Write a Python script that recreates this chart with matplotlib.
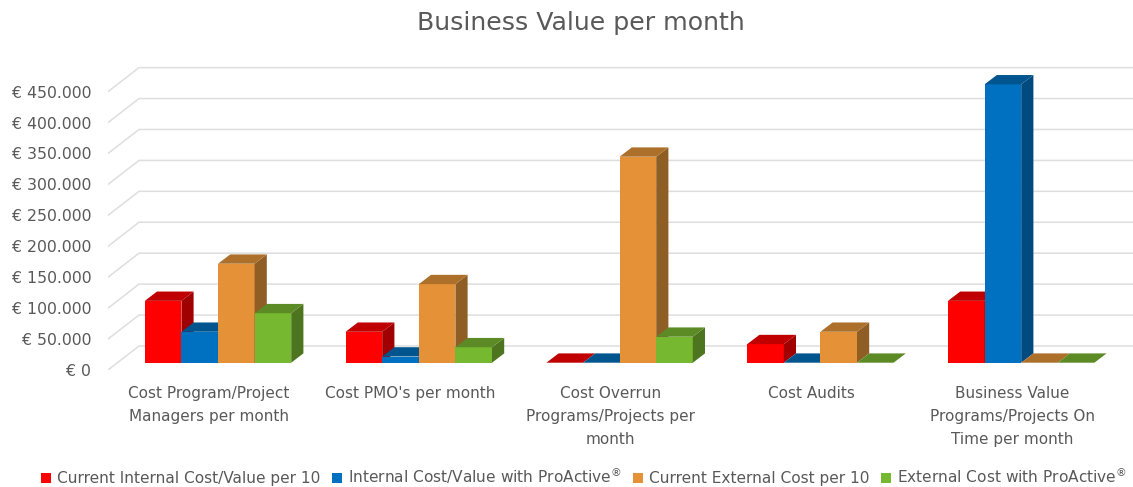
import matplotlib
matplotlib.use("Agg")
import matplotlib.pyplot as plt
from matplotlib.patches import Patch

W, H = 1133, 487
title = "Business Value per month"
categories = ["Cost Program/Project\nManagers per month",
              "Cost PMO's per month\n\n",
              "Cost Overrun\nPrograms/Projects per\nmonth",
              "Cost Audits\n\n",
              "Business Value\nPrograms/Projects On\nTime per month"]
series_names = ["Current Internal Cost/Value per 10",
                "Internal Cost/Value with ProActive$^{\\mathregular{®}}$",
                "Current External Cost per 10",
                "External Cost with ProActive$^{\\mathregular{®}}$"]
current_internal = [100000, 50000, 0, 30000, 100000]
internal_proactive = [50000, 10000, 0, 0, 450000]
current_external = [160000, 127000, 333000, 50000, 0]
external_proactive = [80000, 25000, 42000, 0, 0]
yticks = [0, 50000, 100000, 150000, 200000, 250000, 300000, 350000, 400000, 450000]
ylabels = ["€ 0", "€ 50.000", "€ 100.000", "€ 150.000", "€ 200.000",
           "€ 250.000", "€ 300.000", "€ 350.000", "€ 400.000", "€ 450.000"]
front = ["#FF0000", "#0070C0", "#E59138", "#76B82F"]
tops = ["#C00000", "#00558F", "#AD702A", "#5C8A24"]
sides = ["#A00000", "#004A80", "#8F5E24", "#4D751F"]
TXT = "#595959"

# pixel geometry converted to data units
PX_CAT = 200.8
PX_VAL = 30.93 / 50000
AX_L, AX_B, AX_T = 108, 370, 55
CENTER0 = 218.0
fig = plt.figure(figsize=(W / 100, H / 100), dpi=100)
ax = fig.add_axes([AX_L / W, (H - AX_B) / H, (W - AX_L) / W, (AX_B - AX_T) / H])
ax.set_xlim((AX_L - CENTER0) / PX_CAT, (W - CENTER0) / PX_CAT)
ax.set_ylim(0, (AX_B - AX_T) / PX_VAL)
ux = lambda p: p / PX_CAT
uy = lambda p: p / PX_VAL

# back wall and floor
xmin, xmax = ax.get_xlim()
for v in yticks:
    ax.plot([xmin, xmin + ux(31), xmax], [v, v + uy(24), v + uy(24)],
            color="#DEDEDE", lw=1.1, zorder=0, solid_joinstyle="miter")

# bars, painted from left to right
BAR_W = ux(36.6)
DX, DY = ux(12.2), uy(9.3)
BASE = uy(7.3)
all_series = [current_internal, internal_proactive, current_external, external_proactive]
for g in range(len(categories)):
    for s, vals in enumerate(all_series):
        v = vals[g]
        x0 = g + (s - 2) * BAR_W
        x1 = x0 + BAR_W
        y1 = BASE + v
        ax.bar(x0, v, BAR_W, bottom=BASE, align="edge", color=front[s], lw=0)
        ax.fill([x1, x1 + DX, x1 + DX, x1], [BASE, BASE + DY, y1 + DY, y1], color=sides[s], lw=0)
        ax.fill([x0, x1, x1 + DX, x0 + DX], [y1, y1, y1 + DY, y1 + DY], color=tops[s], lw=0)

for sp in ax.spines.values():
    sp.set_visible(False)
ax.set_yticks(yticks, ylabels, color=TXT, fontsize=11.3)
ax.tick_params(axis="y", length=0, pad=12)
ax.set_xticks([g - ux(9) for g in range(len(categories))], categories,
              color=TXT, fontsize=11, linespacing=1.68)
ax.tick_params(axis="x", length=0, pad=11.5)
ax.patch.set_alpha(0)

fig.text(581 / W, 1 - 23 / H, title, ha="center", va="center", color=TXT, fontsize=18.2)

handles = [Patch(color=c, lw=0) for c in front]
fig.legend(handles, series_names, loc="center", bbox_to_anchor=(584 / W, 1 - 476 / H), ncol=4,
           frameon=False, fontsize=11.1, labelcolor=TXT, handlelength=0.65, handleheight=0.65,
           handletextpad=0.4, columnspacing=0.72, borderpad=0)
fig.savefig("out.png", dpi=100)
